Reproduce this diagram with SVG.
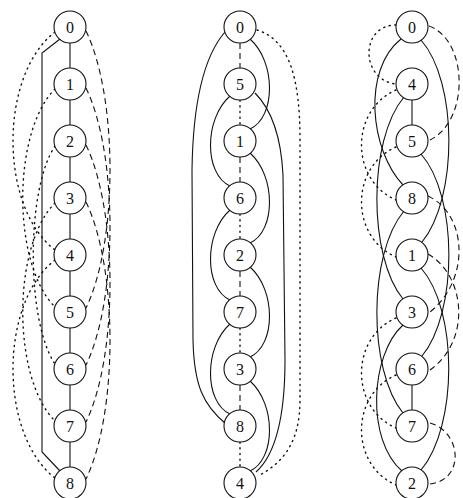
<svg xmlns="http://www.w3.org/2000/svg" width="463" height="498" viewBox="0 0 463 498">
<style>
.s{fill:none;stroke:#111;stroke-width:1.1}
.d{fill:none;stroke:#111;stroke-width:1.1;stroke-dasharray:6 4}
.o{fill:none;stroke:#111;stroke-width:1.4;stroke-dasharray:1.2 4.5;stroke-linecap:round}
.n circle{fill:#fff;stroke:#111;stroke-width:1.1}
.n text{font-family:"Liberation Serif",serif;font-size:16px;text-anchor:middle;fill:#111}
</style>
<rect width="463" height="498" fill="#fff"/>
<g id="connectors">
<!-- column 1 -->
<line class="s" x1="70" y1="40" x2="70" y2="470"/>
<polyline class="s" points="60,39 42,53 42,452 60,471"/>
<path class="d" d="M86 31 C118 97 118 242 86 308"/>
<path class="d" d="M86 88 C118 154 118 299 86 365"/>
<path class="d" d="M86 145 C118 211 118 356 86 422"/>
<path class="d" d="M86 202 C118 268 118 413 86 479"/>
<path class="o" d="M55 32 C-1 75 -1 207 55 250"/>
<path class="o" d="M55 89 C12 132 12 264 55 307"/>
<path class="o" d="M55 146 C26 189 26 321 55 364"/>
<path class="o" d="M55 203 C12 246 12 378 55 421"/>
<path class="o" d="M55 260 C-1 303 -1 435 55 478"/>
<!-- column 2 -->
<line class="d" x1="240" y1="43" x2="240" y2="68"/>
<line class="o" x1="240" y1="100" x2="240" y2="125"/>
<line class="d" x1="240" y1="157" x2="240" y2="182"/>
<line class="o" x1="240" y1="214" x2="240" y2="239"/>
<line class="d" x1="240" y1="271" x2="240" y2="296"/>
<line class="o" x1="240" y1="328" x2="240" y2="353"/>
<line class="d" x1="240" y1="385" x2="240" y2="410"/>
<line class="o" x1="240" y1="442" x2="240" y2="467"/>
<path class="s" d="M250 39 C276 62 276 117 250 129"/>
<path class="s" d="M250 153 C276 176 276 231 250 243"/>
<path class="s" d="M250 267 C276 290 276 345 250 357"/>
<path class="s" d="M250 381 C276 404 276 459 250 471"/>
<path class="s" d="M230 96 C204 119 204 174 230 186"/>
<path class="s" d="M230 210 C204 233 204 288 230 300"/>
<path class="s" d="M230 324 C204 347 204 402 230 414"/>
<path class="s" d="M225 32 C205 55 193 100 192 170 L193 340 C194 385 203 405 226 424"/>
<path class="s" d="M255 93 C270 108 281 135 283 175 L285 360 C285 420 275 455 256 472"/>
<path class="o" d="M257 30 C290 40 300 80 300 140 L300 400 C300 440 285 462 258 476"/>
<!-- column 3 -->
<line class="s" x1="412" y1="100" x2="412" y2="125"/>
<line class="s" x1="412" y1="385" x2="412" y2="410"/>
<path class="s" d="M401 39 C362 70 370 150 403 185"/>
<path class="s" d="M404 97 C368 140 368 256 403 299"/>
<path class="s" d="M404 211 C368 254 368 370 403 413"/>
<path class="s" d="M403 325 C370 355 366 440 402 471"/>
<path class="s" d="M421 40 C458 82 458 198 422 242"/>
<path class="s" d="M421 154 C458 196 458 312 422 356"/>
<path class="s" d="M421 268 C458 310 458 426 421 470"/>
<path class="d" d="M429 26 C468 40 470 120 430 140"/>
<path class="d" d="M428 196 C468 215 470 280 430 312"/>
<path class="d" d="M428 254 C465 275 472 340 430 370"/>
<path class="d" d="M430 423 C462 432 465 480 430 484"/>
<path class="o" d="M396 25 C360 25 360 80 396 84"/>
<path class="o" d="M396 90 C350 110 350 180 396 200"/>
<path class="o" d="M396 147 C350 167 350 237 396 257"/>
<path class="o" d="M396 318 C350 338 350 408 396 428"/>
<path class="o" d="M396 375 C350 395 350 465 396 485"/>
</g>
<g id="c1n0" class="n"><circle cx="70" cy="27" r="16"/><text x="70" y="32.5">0</text></g>
<g id="c1n1" class="n"><circle cx="70" cy="84" r="16"/><text x="70" y="89.5">1</text></g>
<g id="c1n2" class="n"><circle cx="70" cy="141" r="16"/><text x="70" y="146.5">2</text></g>
<g id="c1n3" class="n"><circle cx="70" cy="198" r="16"/><text x="70" y="203.5">3</text></g>
<g id="c1n4" class="n"><circle cx="70" cy="255" r="16"/><text x="70" y="260.5">4</text></g>
<g id="c1n5" class="n"><circle cx="70" cy="312" r="16"/><text x="70" y="317.5">5</text></g>
<g id="c1n6" class="n"><circle cx="70" cy="369" r="16"/><text x="70" y="374.5">6</text></g>
<g id="c1n7" class="n"><circle cx="70" cy="426" r="16"/><text x="70" y="431.5">7</text></g>
<g id="c1n8" class="n"><circle cx="70" cy="483" r="16"/><text x="70" y="488.5">8</text></g>
<g id="c2n0" class="n"><circle cx="240" cy="27" r="16"/><text x="240" y="32.5">0</text></g>
<g id="c2n5" class="n"><circle cx="240" cy="84" r="16"/><text x="240" y="89.5">5</text></g>
<g id="c2n1" class="n"><circle cx="240" cy="141" r="16"/><text x="240" y="146.5">1</text></g>
<g id="c2n6" class="n"><circle cx="240" cy="198" r="16"/><text x="240" y="203.5">6</text></g>
<g id="c2n2" class="n"><circle cx="240" cy="255" r="16"/><text x="240" y="260.5">2</text></g>
<g id="c2n7" class="n"><circle cx="240" cy="312" r="16"/><text x="240" y="317.5">7</text></g>
<g id="c2n3" class="n"><circle cx="240" cy="369" r="16"/><text x="240" y="374.5">3</text></g>
<g id="c2n8" class="n"><circle cx="240" cy="426" r="16"/><text x="240" y="431.5">8</text></g>
<g id="c2n4" class="n"><circle cx="240" cy="483" r="16"/><text x="240" y="488.5">4</text></g>
<g id="c3n0" class="n"><circle cx="412" cy="27" r="16"/><text x="412" y="32.5">0</text></g>
<g id="c3n4" class="n"><circle cx="412" cy="84" r="16"/><text x="412" y="89.5">4</text></g>
<g id="c3n5" class="n"><circle cx="412" cy="141" r="16"/><text x="412" y="146.5">5</text></g>
<g id="c3n8" class="n"><circle cx="412" cy="198" r="16"/><text x="412" y="203.5">8</text></g>
<g id="c3n1" class="n"><circle cx="412" cy="255" r="16"/><text x="412" y="260.5">1</text></g>
<g id="c3n3" class="n"><circle cx="412" cy="312" r="16"/><text x="412" y="317.5">3</text></g>
<g id="c3n6" class="n"><circle cx="412" cy="369" r="16"/><text x="412" y="374.5">6</text></g>
<g id="c3n7" class="n"><circle cx="412" cy="426" r="16"/><text x="412" y="431.5">7</text></g>
<g id="c3n2" class="n"><circle cx="412" cy="483" r="16"/><text x="412" y="488.5">2</text></g>
</svg>
